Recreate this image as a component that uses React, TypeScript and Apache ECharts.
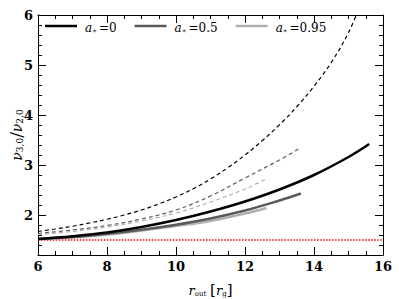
import React, { useEffect, useRef } from "react";
import * as echarts from "echarts";

// a* = 0
const xA0Solid = [6, 7, 8, 9, 10, 11, 12, 13, 14, 15, 15.6];
const yA0Solid = [1.52, 1.575, 1.65, 1.76, 1.9, 2.07, 2.27, 2.51, 2.8, 3.16, 3.42];
const xA0Dash = [6, 6.5, 7, 7.5, 8, 8.5, 9, 9.5, 10, 10.5, 11, 11.5, 12, 12.5, 13, 13.5, 14, 14.5, 15, 15.5];
const yA0Dash = [1.67, 1.72, 1.775, 1.84, 1.915, 2.0, 2.1, 2.22, 2.36, 2.525, 2.72, 2.945, 3.2, 3.485, 3.805, 4.165, 4.575, 5.05, 5.65, 6.45];
// a* = 0.5
const xA05Solid = [6, 7, 8, 9, 10, 11, 12, 13, 13.62];
const yA05Solid = [1.52, 1.56, 1.625, 1.705, 1.805, 1.93, 2.09, 2.29, 2.43];
const xA05Dash = [6, 7, 8, 9, 10, 11, 12, 13, 13.55];
const yA05Dash = [1.63, 1.7, 1.79, 1.92, 2.1, 2.38, 2.74, 3.1, 3.32];
// a* = 0.95
const xA095Solid = [6, 7, 8, 9, 10, 11, 12, 12.62];
const yA095Solid = [1.52, 1.55, 1.61, 1.69, 1.78, 1.88, 2.03, 2.14];
const xA095Dash = [6, 7, 8, 9, 10, 11, 12, 12.6];
const yA095Dash = [1.61, 1.67, 1.76, 1.88, 2.04, 2.26, 2.52, 2.72];
// reference ratio
const xRef = [6, 16];
const yRef = [1.5, 1.5];

const spinLabels = ["0", "0.5", "0.95"];
const yMajorTicks = [2, 3, 4, 5, 6];
const yMinorTicks = [1.4, 1.6, 1.8, 2.2, 2.4, 2.6, 2.8, 3.2, 3.4, 3.6, 3.8, 4.2, 4.4, 4.6, 4.8, 5.2, 5.4, 5.6, 5.8];

const SERIF = "DejaVu Serif";

const pairs = (xs: number[], ys: number[]) => xs.map((x, i) => [x, ys[i]]);

export default function App() {
  const ref = useRef<HTMLDivElement>(null);
  useEffect(() => {
    if (!ref.current) return;
    const chart = echarts.init(ref.current, undefined, { renderer: "svg" });
    const Y_MIN = 1.2;
    const Y_MAX = 6;
    const mkY = (position: "left" | "right", major: boolean, labels: boolean, line: boolean) => ({
      type: "value",
      position,
      min: Y_MIN,
      max: Y_MAX,
      name: labels ? "{v|ν}{sb|3,0}{sl|/}{v|ν}{sb|2,0}" : "",
      nameLocation: "middle",
      nameRotate: 90,
      nameGap: 14,
      nameMoveOverlap: false,
      nameTextStyle: {
        fontFamily: SERIF,
        rich: {
          v: { fontFamily: SERIF, fontStyle: "italic", fontSize: 14, color: "#000", lineHeight: 18, verticalAlign: "bottom" },
          sb: { fontFamily: SERIF, fontSize: 9, color: "#000", lineHeight: 11, verticalAlign: "bottom" },
          sl: { fontFamily: SERIF, fontSize: 17, color: "#000", lineHeight: 18, verticalAlign: "bottom" },
        },
      },
      axisLine: { show: line, lineStyle: { color: "#000", width: 1 } },
      axisTick: {
        show: true,
        inside: true,
        length: major ? 8 : 4,
        customValues: major ? yMajorTicks : yMinorTicks,
        lineStyle: { color: "#000", width: 1 },
      },
      axisLabel: {
        show: labels,
        customValues: yMajorTicks,
        fontFamily: SERIF,
        fontWeight: "bold",
        fontSize: 13,
        color: "#000",
        margin: 5,
      },
      splitLine: { show: false },
      minorTick: { show: false },
    });
    const mkX = (position: "bottom" | "top", labels: boolean) => ({
      type: "value",
      position,
      min: 6,
      max: 16,
      interval: 2,
      name: labels ? "{i|r}{sb|out} {b|[}{i|r}{sb|g}{b|]}" : "",
      nameLocation: "middle",
      nameGap: 22,
      nameMoveOverlap: false,
      nameTextStyle: {
        fontFamily: SERIF,
        rich: {
          i: { fontFamily: SERIF, fontStyle: "italic", fontSize: 13, color: "#000", lineHeight: 20, verticalAlign: "bottom" },
          sb: { fontFamily: SERIF, fontSize: 7, color: "#000", lineHeight: 12, verticalAlign: "bottom" },
          b: { fontFamily: SERIF, fontSize: 15, color: "#000", lineHeight: 20, verticalAlign: "bottom" },
        },
      },
      axisLine: { show: true, onZero: false, lineStyle: { color: "#000", width: 1 } },
      axisTick: { show: true, inside: true, length: 8, lineStyle: { color: "#000", width: 1 } },
      minorTick: { show: true, splitNumber: 4, length: 4, lineStyle: { color: "#000", width: 1 } },
      axisLabel: {
        show: labels,
        fontFamily: SERIF,
        fontWeight: "bold",
        fontSize: 13,
        color: "#000",
        margin: 5,
      },
      splitLine: { show: false },
    });
    const line = (name: string, data: number[][], color: string, width: number, type: any, z = 2) => ({
      name,
      type: "line",
      data,
      symbol: "none",
      smooth: 0.4,
      clip: true,
      z,
      lineStyle: { color, width, type },
      itemStyle: { color },
    });
    chart.setOption({
      animation: false,
      backgroundColor: "#fff",
      grid: { left: 38, right: 16, top: 15, bottom: 44, containLabel: false, outerBoundsMode: "none" },
      xAxis: [mkX("bottom", true), mkX("top", false)],
      yAxis: [
        mkY("left", true, true, true),
        mkY("left", false, false, false),
        mkY("right", true, false, true),
        mkY("right", false, false, false),
      ],
      legend: {
        data: spinLabels.map((n) => ({ name: n, icon: "rect" })),
        left: 40,
        top: 17,
        itemWidth: 32,
        itemHeight: 2.5,
        itemGap: 18,
        selectedMode: false,
        formatter: (n: string) => `{i|a}{s|∗}{r|=${n}}`,
        textStyle: {
          fontFamily: SERIF,
          padding: [0, 0, 0, 3],
          rich: {
            i: { fontFamily: SERIF, fontStyle: "italic", fontSize: 12, color: "#000", lineHeight: 16, verticalAlign: "bottom" },
            s: { fontFamily: SERIF, fontSize: 7, color: "#000", lineHeight: 10, verticalAlign: "bottom", padding: [0, 2, 0, 0] },
            r: { fontFamily: SERIF, fontSize: 12, color: "#000", lineHeight: 16, verticalAlign: "bottom" },
          },
        },
      },
      series: [
        line("ref", pairs(xRef, yRef), "#ff0000", 1.5, [1.5, 1.5], 1),
        line("0d", pairs(xA0Dash, yA0Dash), "#000000", 1.2, [4, 3]),
        line("0.5d", pairs(xA05Dash, yA05Dash), "#5a5a5a", 1.2, [4, 3]),
        line("0.95d", pairs(xA095Dash, yA095Dash), "#b0b0b0", 1.2, [4, 3]),
        line("0.95", pairs(xA095Solid, yA095Solid), "#b0b0b0", 2.5, "solid", 3),
        line("0.5", pairs(xA05Solid, yA05Solid), "#5a5a5a", 2.5, "solid", 4),
        line("0", pairs(xA0Solid, yA0Solid), "#000000", 2.5, "solid", 5),
      ],
    });
    return () => chart.dispose();
  }, []);
  return <div ref={ref} style={{ width: 399, height: 299, position: "absolute", left: 0, top: 0 }} />;
}
